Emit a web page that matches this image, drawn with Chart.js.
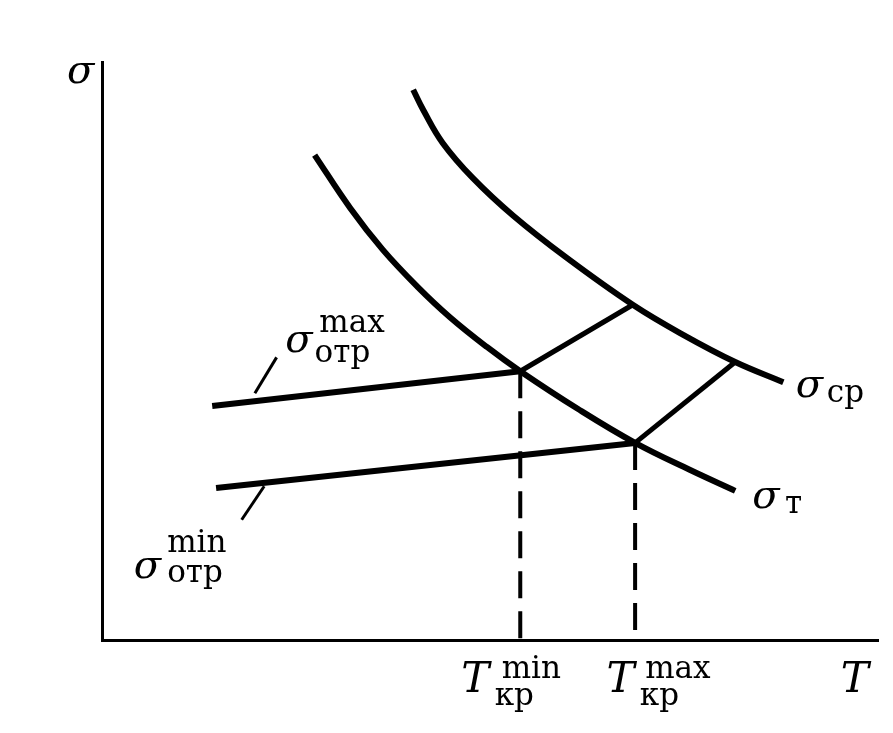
<!DOCTYPE html>
<html>
<head>
<meta charset="utf-8">
<script src="https://cdn.jsdelivr.net/npm/chart.js@4"></script>
<style>
  body { margin: 0; background: #fff; }
</style>
</head>
<body>
<canvas id="diagram" width="893" height="733"></canvas>
<script>
// curve sigma_t (yield stress) and sigma_cr (fracture stress) vs temperature
const tX = [27.4, 32.0, 36.2, 40.6, 44.8, 49.6, 53.9, 61.3, 68.7, 75.8, 81.6];
const tY = [83.9, 74.7, 67.5, 61.2, 55.9, 50.7, 46.5, 40.0, 34.1, 29.4, 25.8];
const crX = [40.1, 41.4, 43.9, 47.8, 53.0, 59.9, 68.4, 74.9, 81.6, 87.8];
const crY = [95.2, 91.7, 86.0, 79.9, 73.4, 66.1, 58.0, 52.8, 48.1, 44.6];

// sigma_otr lines (max and min)
const otrMaxX = [14.2, 53.9];
const otrMaxY = [40.5, 46.5];
const otrMinX = [14.7, 68.7];
const otrMinY = [26.3, 34.1];

// links from sigma_t to sigma_cr
const linkAX = [53.9, 68.4];
const linkAY = [46.5, 58.0];
const linkBX = [68.7, 81.6];
const linkBY = [34.1, 48.1];

// critical temperatures (dashed drops)
const tkrMin = 53.9;
const tkrMax = 68.7;

// label leader strokes
const leadMaxX = [19.7, 22.5];
const leadMaxY = [42.7, 48.9];
const leadMinX = [20.9, 18.0];
const leadMinY = [26.6, 20.8];

function pts(xs, ys) {
  return xs.map(function(x, i) { return { x: x, y: ys[i] }; });
}

function line(xs, ys, width, extra) {
  return Object.assign({
    data: pts(xs, ys),
    showLine: true,
    borderColor: '#000',
    borderWidth: width,
    pointRadius: 0,
    fill: false
  }, extra || {});
}

const ITAL = 'italic 40px "DejaVu Serif"';
const ITAL_T = 'italic 42px "DejaVu Serif"';
const SMALL = '31px "DejaVu Serif"';

// text pieces, anchored in axis units (left, baseline)
const labels = [
  { x: -4.5, y: 96.4, text: 'σ', font: ITAL },
  { x: 95.2, y: -9.0, text: 'T', font: ITAL_T },

  { x: 46.3, y: -9.0, text: 'T', font: ITAL_T },
  { x: 51.5, y: -6.6, text: 'min', font: SMALL },
  { x: 50.6, y: -11.2, text: 'кр', font: SMALL },

  { x: 65.0, y: -9.0, text: 'T', font: ITAL_T },
  { x: 70.0, y: -6.6, text: 'max', font: SMALL },
  { x: 69.3, y: -11.2, text: 'кр', font: SMALL },

  { x: 89.4, y: 42.0, text: 'σ', font: ITAL },
  { x: 93.4, y: 41.2, text: 'ср', font: SMALL },

  { x: 83.8, y: 22.8, text: 'σ', font: ITAL },
  { x: 88.0, y: 22.0, text: 'т', font: SMALL },

  { x: 23.6, y: 49.8, text: 'σ', font: ITAL },
  { x: 28.0, y: 53.3, text: 'max', font: SMALL },
  { x: 27.4, y: 48.1, text: 'отр', font: SMALL },

  { x: 4.1, y: 10.7, text: 'σ', font: ITAL },
  { x: 8.4, y: 15.2, text: 'min', font: SMALL },
  { x: 8.4, y: 10.0, text: 'отр', font: SMALL }
];

const textPlugin = {
  id: 'texts',
  afterDraw: function(chart) {
    const ctx = chart.ctx;
    const sx = chart.scales.x, sy = chart.scales.y;
    ctx.save();
    ctx.fillStyle = '#000';
    ctx.textAlign = 'left';
    ctx.textBaseline = 'alphabetic';
    labels.forEach(function(l) {
      ctx.font = l.font;
      ctx.fillText(l.text, sx.getPixelForValue(l.x), sy.getPixelForValue(l.y));
    });
    ctx.restore();
  }
};

new Chart(document.getElementById('diagram'), {
  type: 'scatter',
  data: {
    datasets: [
      line(tX, tY, 6, { tension: 0.4 }),
      line(crX, crY, 6, { tension: 0.4 }),
      line(otrMaxX, otrMaxY, 6),
      line(otrMinX, otrMinY, 6),
      line(linkAX, linkAY, 5),
      line(linkBX, linkBY, 5),
      line([tkrMin, tkrMin], [otrMaxY[1], 0], 4, { borderDash: [27, 13] }),
      line([tkrMax, tkrMax], [otrMinY[1], 0], 4, { borderDash: [27, 13] }),
      line(leadMaxX, leadMaxY, 3),
      line(leadMinX, leadMinY, 3)
    ]
  },
  options: {
    responsive: false,
    animation: false,
    layout: { padding: { left: 102, right: 15, top: 62, bottom: 93 } },
    plugins: { legend: { display: false }, tooltip: { enabled: false } },
    scales: {
      x: {
        min: 0, max: 100,
        grid: { display: false, drawTicks: false },
        ticks: { display: false },
        border: { display: true, color: '#000', width: 3 }
      },
      y: {
        min: 0, max: 100,
        grid: { display: false, drawTicks: false },
        ticks: { display: false },
        border: { display: true, color: '#000', width: 3 }
      }
    }
  },
  plugins: [textPlugin]
});
</script>
</body>
</html>
